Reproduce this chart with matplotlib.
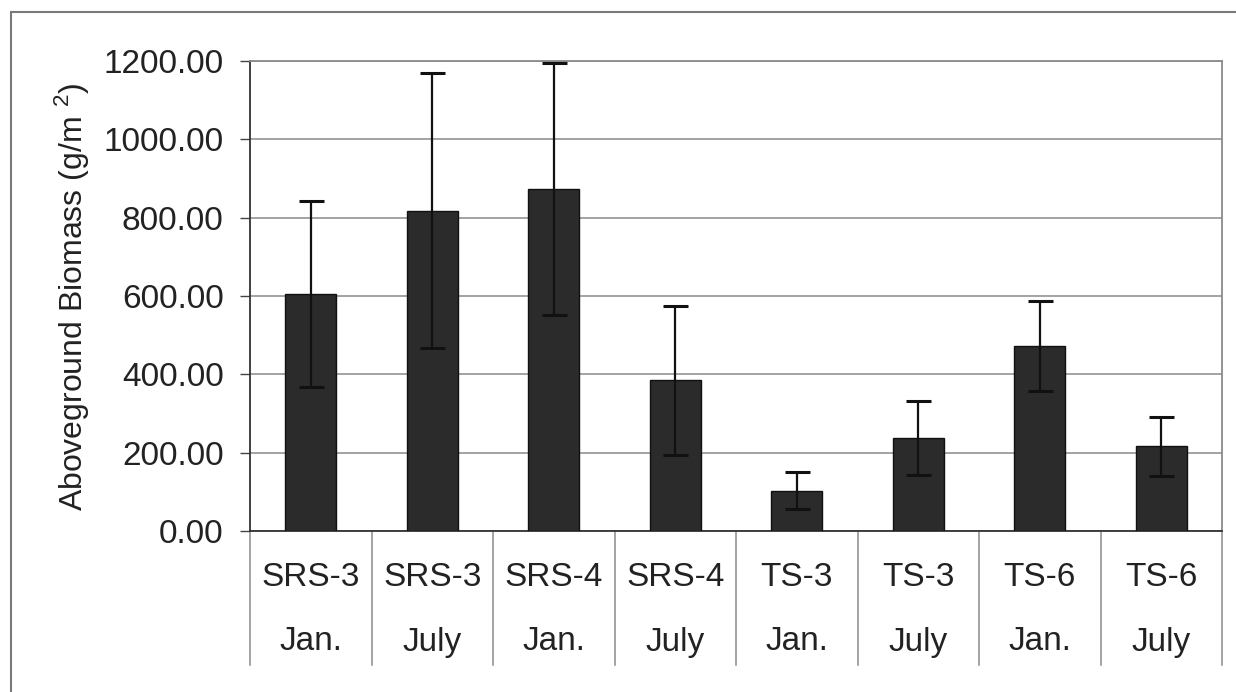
import matplotlib
matplotlib.use("Agg")
import matplotlib.pyplot as plt
from matplotlib.patches import Rectangle
from matplotlib.ticker import FormatStrFormatter
import matplotlib.transforms as mtransforms

plt.rcParams['font.family'] = ['Liberation Sans', 'DejaVu Sans']
plt.rcParams['mathtext.fontset'] = 'custom'
plt.rcParams['mathtext.rm'] = 'Liberation Sans'

sites = ["SRS-3", "SRS-3", "SRS-4", "SRS-4", "TS-3", "TS-3", "TS-6", "TS-6"]
months = ["Jan.", "July", "Jan.", "July", "Jan.", "July", "Jan.", "July"]
biomass = [605, 818, 873, 385, 103, 238, 473, 216]
biomass_err = [238, 352, 322, 190, 47, 95, 115, 75]

txt_color = "#222222"
fs = 24

fig = plt.figure(figsize=(12.36, 6.92), dpi=100)
ax = fig.add_axes([250 / 1236, 1 - 531 / 692, (1222 - 250) / 1236, (531 - 61) / 692])

x = list(range(len(biomass)))
ax.bar(x, biomass, width=0.42, color="#2b2b2b", edgecolor="#111111", linewidth=1, zorder=3)
ax.errorbar(x, biomass, yerr=biomass_err, fmt="none", ecolor="#111111",
            elinewidth=1.6, capsize=9, capthick=2.2, zorder=4)

ax.set_xlim(-0.5, len(biomass) - 0.5)
ax.set_ylim(0, 1200)
ax.set_yticks(range(0, 1201, 200))
ax.yaxis.set_major_formatter(FormatStrFormatter("%.2f"))
ax.tick_params(axis="y", direction="out", length=7, width=1, color="#444444",
               labelsize=fs, labelcolor=txt_color, pad=12)
ax.set_xticks([])
ax.yaxis.grid(True, color="#8a8a8a", linewidth=1.1, zorder=0)

for side in ["left", "bottom"]:
    ax.spines[side].set_color("#333333")
    ax.spines[side].set_linewidth(1.3)
for side in ["top", "right"]:
    ax.spines[side].set_color("#8a8a8a")
    ax.spines[side].set_linewidth(1.3)

# category table under the axis
trans = mtransforms.blended_transform_factory(ax.transData, ax.transAxes)
bottom_y = (531 - 665) / 470
for i in range(len(biomass) + 1):
    ax.plot([i - 0.5, i - 0.5], [0, bottom_y], transform=trans, color="#8a8a8a",
            linewidth=1.1, clip_on=False)
for i, (s, m) in enumerate(zip(sites, months)):
    ax.text(i, (531 - 578) / 470, s, transform=trans, ha="center", va="center",
            fontsize=fs, color=txt_color)
    ax.text(i, (531 - 642) / 470, m, transform=trans, ha="center", va="center",
            fontsize=fs, color=txt_color)

fig.text(72 / 1236, 1 - 297 / 692, "Aboveground Biomass (g/m $^2$)", rotation=90,
         ha="center", va="center", fontsize=23, color=txt_color)

# outer border
fig.patches.append(Rectangle((11 / 1236, -0.05), 1.2, 1 - 12 / 692 + 0.05,
                             transform=fig.transFigure, fill=False,
                             edgecolor="#7a7a7a", linewidth=1.5))

fig.savefig("out.png", dpi=100)
